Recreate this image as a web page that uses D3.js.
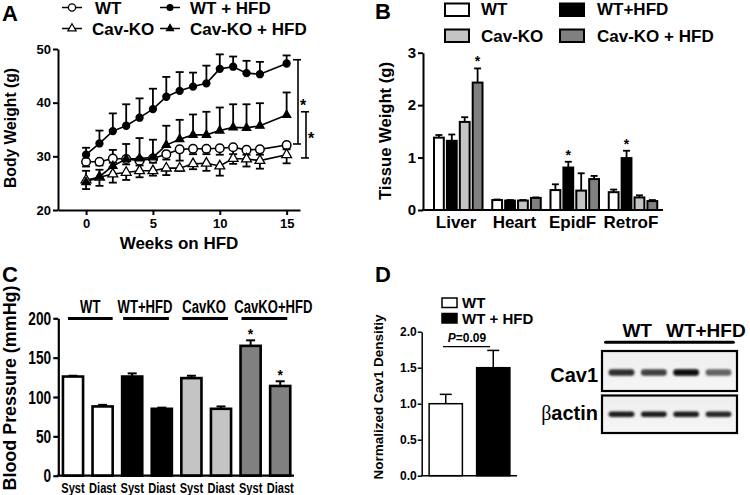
<!DOCTYPE html>
<html><head><meta charset="utf-8">
<script src="https://cdn.jsdelivr.net/npm/d3@7"></script>
<style>
body{margin:0;background:#fff}
svg{display:block}
text{font-family:"Liberation Sans",Arial,Helvetica,sans-serif;font-weight:bold;fill:#000}
</style>
</head><body>
<svg id="fig" width="750" height="495"></svg>
<script>
// ---------- Panel A data ----------
const weeks = [0,1,2,3,4,5,6,7,8,9,10,11,12,13,15];
const wtBW = [29.0,29.0,29.6,29.5,29.2,29.6,30.4,31.3,31.4,31.4,31.5,31.7,31.2,31.3,32.1];
const wtBWErr = [0.9,0.7,0.8,1.0,0.9,0.8,1.0,2.1,1.0,1.0,1.2,1.3,0.9,1.0,0.8];
const wtHfdBW = [30.3,32.4,34.7,35.7,37.2,38.8,41.1,42.2,43.0,43.6,46.3,46.7,45.5,45.3,47.3];
const wtHfdBWErr = [1.3,2.4,3.3,4.0,3.6,3.8,3.7,3.5,2.6,3.3,2.7,1.9,2.3,2.3,1.5];
const koBW = [25.6,26.1,26.7,27.0,27.3,27.3,27.8,27.8,28.6,28.7,28.2,29.6,29.5,29.2,30.3];
const koBWErr = [1.7,1.6,1.6,1.4,1.2,0.9,1.3,0.5,1.0,1.4,1.8,1.0,1.4,1.5,1.6];
const koHfdBW = [25.2,26.2,28.2,29.5,29.6,29.8,32.1,33.2,34.0,34.0,34.8,35.4,35.3,35.7,37.7];
const koHfdBWErr = [2.1,1.3,3.0,2.8,3.8,3.3,3.6,3.6,3.8,4.3,4.3,4.3,4.4,4.2,4.2];
const seriesA = ["WT","WT + HFD","Cav-KO","Cav-KO + HFD"];
const bracketsA = [[32.3,48.0],[29.7,38.3]];
const xTicksA = [0,5,10,15];
const yTicksA = [20,30,40,50];

// ---------- Panel B data ----------
const tissues = ["Liver","Heart","EpidF","RetroF"];
const groupsB = ["WT","WT+HFD","Cav-KO","Cav-KO + HFD"];
const tWT = [1.38,0.19,0.38,0.34];
const tWTErr = [0.05,0.01,0.11,0.05];
const tWTHfd = [1.32,0.18,0.81,0.99];
const tWTHfdErr = [0.12,0.01,0.11,0.14];
const tKO = [1.68,0.18,0.37,0.24];
const tKOErr = [0.09,0.01,0.33,0.04];
const tKOHfd = [2.43,0.23,0.59,0.17];
const tKOHfdErr = [0.27,0.01,0.06,0.02];
const sigB = [[0,3],[2,1],[3,1]]; // [tissue, group]
const yTicksB = [0,1,2,3];

// ---------- Panel C data ----------
const groupsC = ["WT","WT+HFD","CavKO","CavKO+HFD"];
const measures = ["Syst","Diast"];
const systBP = [126,126,124,165];
const systErr = [1,4,3,7];
const diastBP = [88,85,85,114];
const diastErr = [2,1.5,3,6];
const yTicksC = [0,50,100,150,200];

// ---------- Panel D data ----------
const groupsD = ["WT","WT + HFD"];
const cav1Density = [1.0,1.5];
const cav1Err = [0.13,0.24];
const pLabel = "0.09";
const yTicksD = [0,0.5,1.0,1.5,2.0];
const blotLanes = ["WT","WT","WT+HFD","WT+HFD"];
const cav1Bands = [0.85,0.8,0.97,0.68];
const actinBands = [0.9,0.9,0.9,0.88];

const colors = ["#ffffff","#000000","#c4c4c4","#808080"];
const svg = d3.select("#fig");
svg.append("rect").attr("width",750).attr("height",495).attr("fill","#fff");

function panelLetter(t,x,y){svg.append("text").attr("x",x).attr("y",y).attr("font-size",22).text(t);}
function styleAxis(g,w){g.select(".domain").attr("stroke","#000").attr("stroke-width",w);
  g.selectAll(".tick line").attr("stroke","#000").attr("stroke-width",w);
  g.selectAll(".tick text").attr("font-family",null);}

// ===================== Panel A =====================
panelLetter("A",2,21);
const xA = d3.scaleLinear().domain([-2.1,16]).range([58,300]);
const yA = d3.scaleLinear().domain([20,50]).range([210,49]);
const gA = svg.append("g");
const axAy = gA.append("g").attr("transform","translate(58,0)")
  .call(d3.axisLeft(yA).tickValues(yTicksA).tickSize(5).tickSizeOuter(0).tickPadding(2));
styleAxis(axAy,2); axAy.selectAll("text").attr("font-size",13);
const axAx = gA.append("g").attr("transform","translate(0,210)")
  .call(d3.axisBottom(xA).tickValues(xTicksA).tickSize(5).tickSizeOuter(0).tickPadding(4));
styleAxis(axAx,2); axAx.selectAll("text").attr("font-size",13);
gA.append("text").attr("x",179).attr("y",249).attr("text-anchor","middle").attr("font-size",17).text("Weeks on HFD");
gA.append("text").attr("transform","translate(16,128) rotate(-90)").attr("text-anchor","middle")
  .attr("font-size",17).attr("textLength",120).attr("lengthAdjust","spacingAndGlyphs").text("Body Weight (g)");

const line = d3.line().x((d,i)=>xA(weeks[i])).y(d=>yA(d));
const dataA = [
  {v:wtBW,e:wtBWErr,dir:-1,shape:"circle",fill:"#fff"},
  {v:wtHfdBW,e:wtHfdBWErr,dir:1,shape:"circle",fill:"#000"},
  {v:koBW,e:koBWErr,dir:-1,shape:"tri",fill:"#fff"},
  {v:koHfdBW,e:koHfdBWErr,dir:1,shape:"tri",fill:"#000"}
];
dataA.forEach(s=>{
  gA.append("path").attr("d",line(s.v)).attr("fill","none").attr("stroke","#000").attr("stroke-width",1.6);
});
dataA.forEach(s=>{
  s.v.forEach((v,i)=>{
    const x=xA(weeks[i]), y0=yA(v), y1=yA(v+s.dir*s.e[i]);
    gA.append("line").attr("x1",x).attr("x2",x).attr("y1",y0).attr("y2",y1).attr("stroke","#000").attr("stroke-width",1.8);
    gA.append("line").attr("x1",x-4).attr("x2",x+4).attr("y1",y1).attr("y2",y1).attr("stroke","#000").attr("stroke-width",1.8);
  });
});
const triOpen = d3.symbol().type(d3.symbolTriangle).size(42);
const triFill = d3.symbol().type(d3.symbolTriangle).size(30);
function marker(g,s,x,y){
  if(s.shape==="circle"){
    g.append("circle").attr("cx",x).attr("cy",y).attr("r",s.fill==="#fff"?4.3:3.4)
      .attr("fill",s.fill).attr("stroke","#000").attr("stroke-width",1.5);
  } else {
    g.append("path").attr("d",(s.fill==="#fff"?triOpen:triFill)()).attr("transform",`translate(${x},${y})`)
      .attr("fill",s.fill).attr("stroke","#000").attr("stroke-width",1.3);
  }
}
dataA.forEach(s=>{ s.v.forEach((v,i)=>marker(gA,s,xA(weeks[i]),yA(v))); });

// brackets
const brX = [298,306];
bracketsA.forEach((b,k)=>{
  const x=brX[k];
  gA.append("line").attr("x1",x).attr("x2",x).attr("y1",yA(b[0])).attr("y2",yA(b[1])).attr("stroke","#000").attr("stroke-width",1.6);
  [b[0],b[1]].forEach(v=>gA.append("line").attr("x1",x-5).attr("x2",x+3).attr("y1",yA(v)).attr("y2",yA(v)).attr("stroke","#000").attr("stroke-width",1.6));
  gA.append("text").attr("x",x+2).attr("y",(yA(b[0])+yA(b[1]))/2+9).attr("font-size",16).text("*");
});
// legend A
const legA = [
  {s:dataA[0],x:62,y:7.5,t:seriesA[0],tx:95},
  {s:dataA[1],x:160,y:7.5,t:seriesA[1],tx:190},
  {s:dataA[2],x:62,y:28.5,t:seriesA[2],tx:92},
  {s:dataA[3],x:160,y:28.5,t:seriesA[3],tx:190}
];
legA.forEach(l=>{
  gA.append("line").attr("x1",l.x).attr("x2",l.x+20).attr("y1",l.y).attr("y2",l.y).attr("stroke","#000").attr("stroke-width",1.5);
  const s=l.s;
  if(s.shape==="circle") {
    gA.append("circle").attr("cx",l.x+10).attr("cy",l.y).attr("r",s.fill==="#fff"?3.6:2.9).attr("fill",s.fill).attr("stroke","#000").attr("stroke-width",1.3);
  } else {
    gA.append("path").attr("d",d3.symbol().type(d3.symbolTriangle).size(s.fill==="#fff"?30:22)()).attr("transform",`translate(${l.x+10},${l.y})`).attr("fill",s.fill).attr("stroke","#000").attr("stroke-width",1.2);
  }
  gA.append("text").attr("x",l.tx).attr("y",l.y+6).attr("font-size",17).text(l.t);
});

// ===================== Panel B =====================
panelLetter("B",375,19);
const gB = svg.append("g");
const x0B = d3.scaleBand().domain(tissues).range([429,662]).paddingInner(0).paddingOuter(0);
const x1B = d3.scaleBand().domain(groupsB).range([5,53.5]).paddingInner(0.24);
const yB = d3.scaleLinear().domain([0,3]).range([210,52.7]);
const valsB = [tWT,tWTHfd,tKO,tKOHfd];
const errsB = [tWTErr,tWTHfdErr,tKOErr,tKOHfdErr];
tissues.forEach((t,ti)=>{
  groupsB.forEach((g,gi)=>{
    const x = x0B(t)+x1B(g), w=x1B.bandwidth(), v=valsB[gi][ti], e=errsB[gi][ti];
    const cx = x+w/2;
    gB.append("line").attr("x1",cx).attr("x2",cx).attr("y1",yB(v)).attr("y2",yB(v+e)).attr("stroke","#000").attr("stroke-width",1.8);
    gB.append("line").attr("x1",cx-3.5).attr("x2",cx+3.5).attr("y1",yB(v+e)).attr("y2",yB(v+e)).attr("stroke","#000").attr("stroke-width",1.8);
    gB.append("rect").attr("x",x).attr("y",yB(v)).attr("width",w).attr("height",yB(0)-yB(v))
      .attr("fill",colors[gi]).attr("stroke","#000").attr("stroke-width",2);
  });
});
sigB.forEach(([ti,gi])=>{
  const cx = x0B(tissues[ti])+x1B(groupsB[gi])+x1B.bandwidth()/2;
  gB.append("text").attr("x",cx).attr("y",yB(valsB[gi][ti]+errsB[gi][ti])-2).attr("text-anchor","middle").attr("font-size",14).attr("font-weight","normal").text("*");
});
const axBy = gB.append("g").attr("transform","translate(423,0)")
  .call(d3.axisLeft(yB).tickValues(yTicksB).tickFormat(d3.format("d")).tickSize(5).tickSizeOuter(0).tickPadding(2));
styleAxis(axBy,2); axBy.selectAll("text").attr("font-size",15);
gB.append("line").attr("x1",422).attr("x2",663).attr("y1",210).attr("y2",210).attr("stroke","#000").attr("stroke-width",2);
tissues.forEach(t=>{
  gB.append("text").attr("x",x0B(t)+x0B.bandwidth()/2-2).attr("y",228).attr("text-anchor","middle").attr("font-size",17).text(t);
});
gB.append("text").attr("transform","translate(391,131) rotate(-90)").attr("text-anchor","middle")
  .attr("font-size",17).attr("textLength",138).attr("lengthAdjust","spacingAndGlyphs").text("Tissue Weight (g)");
const legB = [[445,3.5,481,15],[560,3.5,597,15],[445,29.5,481,42],[560,29.5,597,42]];
groupsB.forEach((g,i)=>{
  const [bx,by,tx,ty]=legB[i];
  gB.append("rect").attr("x",bx).attr("y",by).attr("width",24).attr("height",12.5).attr("fill",colors[i]).attr("stroke","#000").attr("stroke-width",2);
  gB.append("text").attr("x",tx).attr("y",ty).attr("font-size",17).text(g);
});

// ===================== Panel C =====================
panelLetter("C",2,282);
const gC = svg.append("g");
const barsC = [];
groupsC.forEach((g,i)=>{ barsC.push({g,i,m:measures[0],v:systBP[i],e:systErr[i]}); barsC.push({g,i,m:measures[1],v:diastBP[i],e:diastErr[i]}); });
const xC = d3.scaleBand().domain(barsC.map((d,k)=>k)).range([58.2,295]).paddingInner(0.32).paddingOuter(0.16);
const yC = d3.scaleLinear().domain([0,200]).range([475.7,318.3]);
barsC.forEach((d,k)=>{
  const x=xC(k), w=xC.bandwidth(), cx=x+w/2;
  gC.append("line").attr("x1",cx).attr("x2",cx).attr("y1",yC(d.v)).attr("y2",yC(d.v+d.e)).attr("stroke","#000").attr("stroke-width",2);
  gC.append("line").attr("x1",cx-4.5).attr("x2",cx+4.5).attr("y1",yC(d.v+d.e)).attr("y2",yC(d.v+d.e)).attr("stroke","#000").attr("stroke-width",2);
  gC.append("rect").attr("x",x).attr("y",yC(d.v)).attr("width",w).attr("height",yC(0)-yC(d.v))
    .attr("fill",colors[d.i]).attr("stroke","#000").attr("stroke-width",2.6);
  gC.append("text").attr("transform",`translate(${cx},493) scale(0.74,1)`).attr("text-anchor","middle").attr("font-size",15).text(d.m);
  if(d.i===3){
    gC.append("text").attr("x",cx).attr("y",yC(d.v+d.e)-1).attr("text-anchor","middle").attr("font-size",14).attr("font-weight","normal").text("*");
  }
});
const labelShiftC = [0,-1,-1,9];
groupsC.forEach((g,i)=>{
  const xs = xC(2*i)+(i===0?5:1), xe = xC(2*i+1)+xC.bandwidth()-(i===0?0:3);
  gC.append("line").attr("x1",xs).attr("x2",xe).attr("y1",318.5).attr("y2",318.5).attr("stroke","#000").attr("stroke-width",3);
  gC.append("text").attr("transform",`translate(${(xs+xe)/2+labelShiftC[i]},313) scale(0.69,1)`).attr("text-anchor","middle").attr("font-size",19).text(g);
});
const axCy = gC.append("g").attr("transform","translate(58.3,0)")
  .call(d3.axisLeft(yC).tickValues(yTicksC).tickSize(5).tickSizeOuter(0).tickPadding(2));
styleAxis(axCy,2.2);
axCy.selectAll(".tick text").attr("font-size",19).attr("transform","scale(0.72,1) translate(-3,0)");
gC.append("line").attr("x1",57).attr("x2",294).attr("y1",475.7).attr("y2",475.7).attr("stroke","#000").attr("stroke-width",2.2);
gC.append("text").attr("transform","translate(16,388) rotate(-90)").attr("text-anchor","middle")
  .attr("font-size",19).attr("textLength",205).attr("lengthAdjust","spacingAndGlyphs").text("Blood Pressure (mmHg)");

// ===================== Panel D =====================
panelLetter("D",375,282);
const gD = svg.append("g");
const xD = d3.scaleBand().domain(groupsD).range([422,517]).paddingInner(0.3).paddingOuter(0.15);
const yD = d3.scaleLinear().domain([0,2]).range([475.7,331.7]);
groupsD.forEach((g,i)=>{
  const x=xD(g), w=xD.bandwidth(), cx=x+w/2, v=cav1Density[i], e=cav1Err[i];
  gD.append("line").attr("x1",cx).attr("x2",cx).attr("y1",yD(v)).attr("y2",yD(v+e)).attr("stroke","#000").attr("stroke-width",1.5);
  gD.append("line").attr("x1",cx-6).attr("x2",cx+6).attr("y1",yD(v+e)).attr("y2",yD(v+e)).attr("stroke","#000").attr("stroke-width",1.5);
  gD.append("rect").attr("x",x).attr("y",yD(v)).attr("width",w).attr("height",yD(0)-yD(v))
    .attr("fill",i===0?"#fff":"#000").attr("stroke","#000").attr("stroke-width",1.5);
});
const axDy = gD.append("g").attr("transform","translate(421.7,0)")
  .call(d3.axisLeft(yD).tickValues(yTicksD).tickFormat(d3.format(".1f")).tickSize(4).tickSizeOuter(0).tickPadding(1));
styleAxis(axDy,1.5); axDy.selectAll("text").attr("font-size",12);
gD.append("line").attr("x1",421).attr("x2",517).attr("y1",475.7).attr("y2",475.7).attr("stroke","#000").attr("stroke-width",1.5);
gD.append("text").attr("transform","translate(383,397) rotate(-90)").attr("text-anchor","middle")
  .attr("font-size",13.5).attr("textLength",165).attr("lengthAdjust","spacingAndGlyphs").text("Normalized Cav1 Densitiy");
gD.append("line").attr("x1",443).attr("x2",490).attr("y1",346.7).attr("y2",346.7).attr("stroke","#000").attr("stroke-width",1.3);
const pt = gD.append("text").attr("x",467).attr("y",342).attr("text-anchor","middle").attr("font-size",12).attr("font-weight","normal");
pt.append("tspan").attr("font-style","italic").text("P");
pt.append("tspan").text("="+pLabel);
const legD=[[298,308],[313.5,323.5]];
groupsD.forEach((g,i)=>{
  gD.append("rect").attr("x",442).attr("y",legD[i][0]).attr("width",15).attr("height",9.5)
    .attr("fill",i===0?"#fff":"#000").attr("stroke","#000").attr("stroke-width",1.5);
  gD.append("text").attr("x",462).attr("y",legD[i][1]).attr("font-size",15).text(g);
});

// Western blot
const defs = svg.append("defs");
defs.append("filter").attr("id","blur").attr("x","-20%").attr("y","-80%").attr("width","140%").attr("height","260%")
  .append("feGaussianBlur").attr("stdDeviation","1.1 1.0");
const grad = defs.append("linearGradient").attr("id","bg").attr("x1",0).attr("x2",0).attr("y1",0).attr("y2",1);
grad.append("stop").attr("offset","0%").attr("stop-color","#eeeeee");
grad.append("stop").attr("offset","100%").attr("stop-color","#f6f6f6");
const xL = d3.scaleBand().domain(d3.range(4)).range([606,734]).paddingInner(0.14).paddingOuter(0.05);
function blotBox(y0,y1,bandY,bands,th){
  gD.append("rect").attr("x",602).attr("y",y0).attr("width",135).attr("height",y1-y0).attr("fill","url(#bg)");
  bands.forEach((b,i)=>{
    const x=xL(i), w=xL.bandwidth();
    gD.append("rect").attr("x",x+1).attr("y",bandY-th/2).attr("width",w-2).attr("height",th)
      .attr("rx",3).attr("fill",d3.interpolateGreys(b)).attr("filter","url(#blur)");
  });
  gD.append("rect").attr("x",602).attr("y",y0).attr("width",135).attr("height",y1-y0).attr("fill","none").attr("stroke","#000").attr("stroke-width",2.2);
}
blotBox(351,391,372.5,cav1Bands,6.5);
blotBox(395.5,433,414.3,actinBands,5.5);
gD.append("text").attr("x",598).attr("y",381.5).attr("text-anchor","end").attr("font-size",20).text("Cav1");
const at = gD.append("text").attr("x",598).attr("y",420).attr("text-anchor","end").attr("font-size",20);
at.append("tspan").attr("font-family","'Liberation Serif','Times New Roman',serif").attr("font-weight","normal").text("β");
at.append("tspan").text("actin");
const blotGroups = ["WT","WT+HFD"];
blotGroups.forEach((g,k)=>{
  const xs = xL(2*k)-2, xe = xL(2*k+1)+xL.bandwidth()+1;
  gD.append("line").attr("x1",xs).attr("x2",xe).attr("y1",342.3).attr("y2",342.3).attr("stroke","#000").attr("stroke-width",3).attr("stroke-linecap","round");
  gD.append("text").attr("x",(xs+xe)/2+(k?4:0)).attr("y",336.5).attr("text-anchor","middle").attr("font-size",19).text(g);
});
</script>
</body></html>
